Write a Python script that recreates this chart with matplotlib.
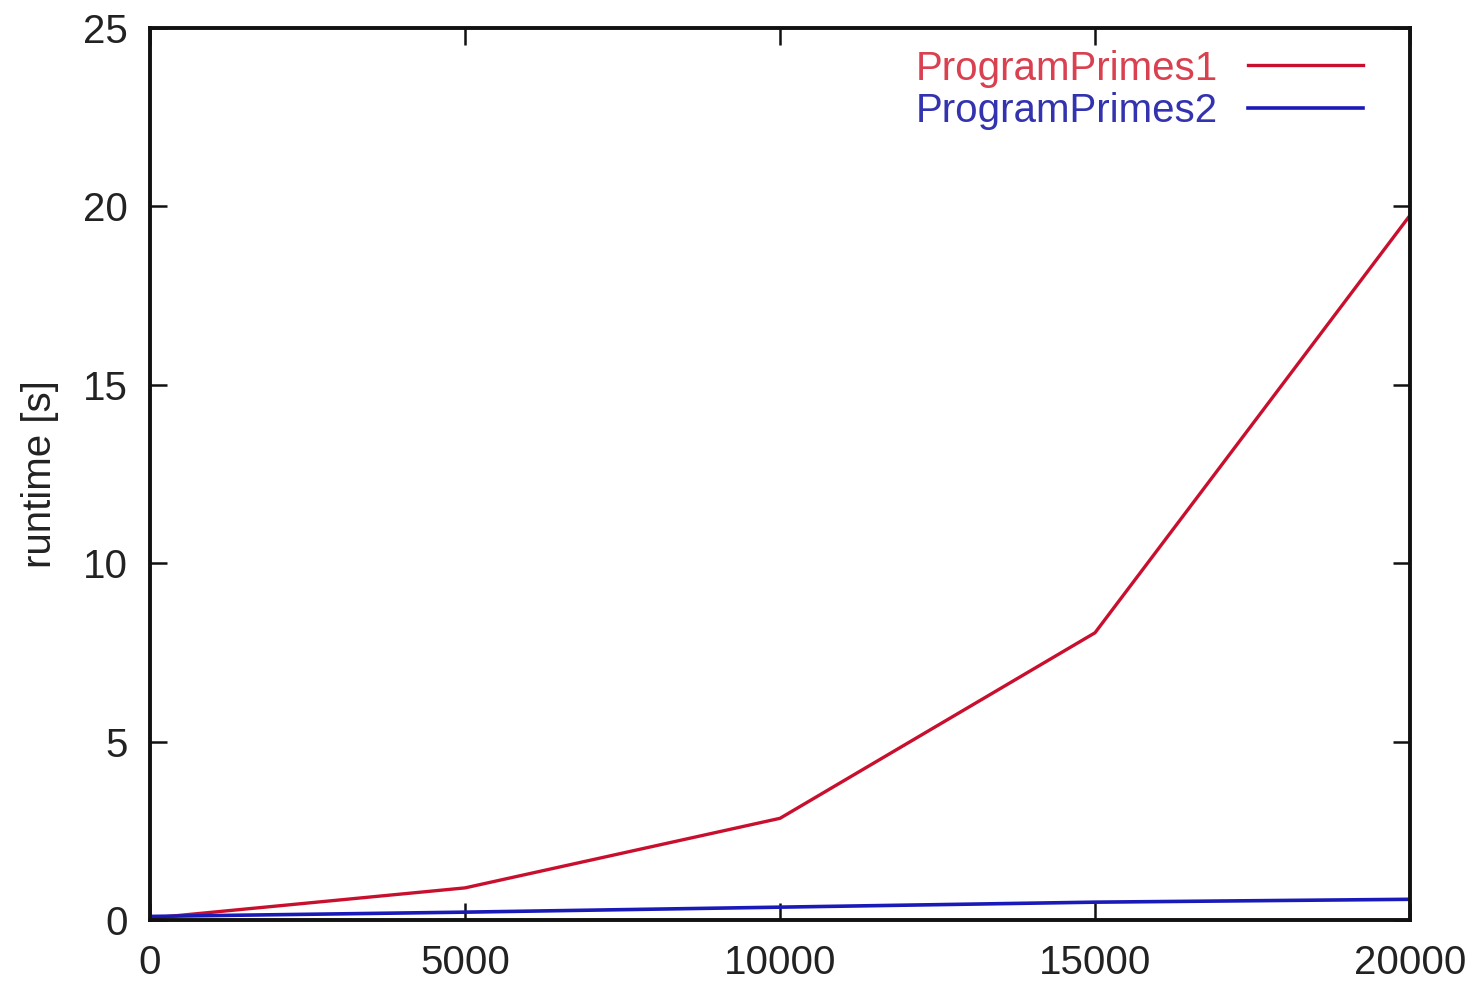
import matplotlib
matplotlib.use("Agg")
import matplotlib.pyplot as plt

# problem size (x) and runtime in seconds
n_values = [0, 5000, 10000, 15000, 20000]
primes1_runtime = [0.05, 0.9, 2.85, 8.05, 19.75]
primes2_runtime = [0.1, 0.22, 0.36, 0.5, 0.58]

x_ticks = [0, 5000, 10000, 15000, 20000]
y_ticks = [0, 5, 10, 15, 20, 25]

RED = "#c8102e"
BLUE = "#1a1ab8"

plt.rcParams["font.family"] = ["Liberation Sans", "DejaVu Sans"]

fig = plt.figure(figsize=(14.75, 9.83), dpi=100)
ax = fig.add_axes([150 / 1475, 1 - 920 / 983, 1260 / 1475, 892 / 983])

ax.plot(n_values, primes1_runtime, color=RED, lw=2.4, label="ProgramPrimes1")
ax.plot(n_values, primes2_runtime, color=BLUE, lw=2.6, label="ProgramPrimes2")

ax.set_xlim(0, 20000)
ax.set_ylim(0, 25)
ax.set_xticks(x_ticks)
ax.set_yticks(y_ticks)
ax.set_ylabel("runtime [s]", fontsize=29, labelpad=17, color="#222222")

ax.tick_params(direction="in", length=12, width=1.8, labelsize=29,
               top=True, right=True, colors="#111111",
               labelcolor="#222222")
ax.tick_params(axis="x", pad=17)
ax.tick_params(axis="y", pad=16)
for s in ax.spines.values():
    s.set_linewidth(2.8)
    s.set_color("#111111")

leg = ax.legend(loc="upper right", frameon=False, markerfirst=False,
                fontsize=29, handlelength=2.85, handletextpad=0.75,
                labelspacing=0.12, borderaxespad=0.4,
                bbox_to_anchor=(0.988, 1.012))
for txt, c in zip(leg.get_texts(), ["#d94050", "#3333b0"]):
    txt.set_color(c)

fig.savefig("out.png", dpi=100, facecolor="white")
